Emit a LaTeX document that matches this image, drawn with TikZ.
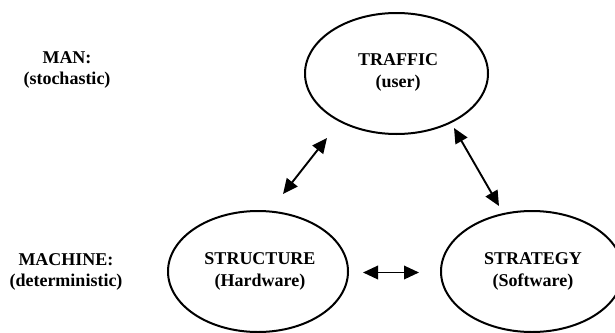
\documentclass[tikz,border=0pt]{standalone}
\usepackage{fontspec}
\setmainfont{Liberation Serif}
\usetikzlibrary{arrows.meta,shapes.geometric}
\begin{document}
\begin{tikzpicture}[x=1pt,y=-1pt,
  lbl/.style={font=\bfseries\fontsize{18}{21.5}\selectfont, align=center, inner sep=0pt},
  oval/.style={draw, line width=2pt, ellipse, minimum width=#1, minimum height=121pt, inner sep=0pt},
  link/.style={line width=1.9pt, {Triangle[length=15pt,width=13.5pt]}-{Triangle[length=15pt,width=13.5pt]}}]
\useasboundingbox (0,0) rectangle (615,332);
% side labels
\node[lbl] (man) at (67,70) {MAN:\\(stochastic)};
\node[lbl] (machine) at (66,272) {MACHINE:\\(deterministic)};
% the three ovals
\node[oval=183pt] (traffic) at (396.5,73.5) {};
\node[lbl] (traffict) at (398,72.5) {TRAFFIC\\(user)};
\node[oval=180pt] (structure) at (258,271.5) {};
\node[lbl] (structuret) at (260,271.5) {STRUCTURE\\(Hardware)};
\node[oval=182pt] (strategy) at (532,271.5) {};
\node[lbl] (strategyt) at (533,271.5) {STRATEGY\\(Software)};
% connectors
\coordinate (a1) at (283,194); \coordinate (a2) at (327,138);
\coordinate (b1) at (454,128); \coordinate (b2) at (499,206);
\coordinate (c1) at (363,272.5); \coordinate (c2) at (419,272.5);
\draw[link] (a1) -- (a2);
\draw[link] (b1) -- (b2);
\draw[link] (c1) -- (c2);
\end{tikzpicture}
\end{document}
